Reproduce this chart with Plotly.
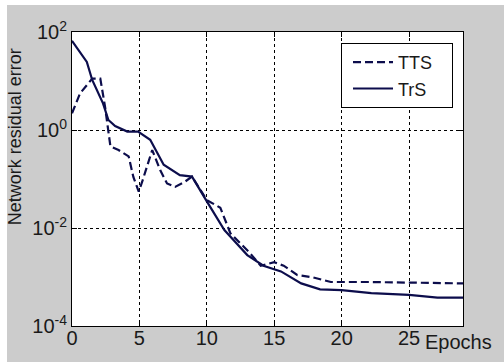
import plotly.graph_objects as go

# TrS (solid) — training set residual error
trs_epochs = [0, 1.1, 1.5, 2.3, 2.7, 3.2, 4.1, 4.9, 5.8, 6.8, 8.0, 8.9, 10.0, 11.3, 13.0, 14.2, 15.5, 17.0, 18.4, 20.0, 22.2, 25.0, 27.1, 29]
trs_error = [66, 24.5, 10.5, 3.5, 1.6, 1.2, 0.93, 0.93, 0.63, 0.195, 0.12, 0.112, 0.035, 0.0091, 0.0028, 0.0017, 0.0013, 0.00074, 0.00056, 0.00054, 0.00047, 0.00043, 0.00038, 0.00038]

# TTS (dashed) — test set residual error
tts_epochs = [0, 0.6, 1.5, 2.1, 2.45, 2.85, 3.45, 4.2, 4.55, 4.95, 5.2, 5.95, 6.55, 7.05, 7.65, 8.4, 8.9, 10.0, 11.0, 11.75, 13.1, 14.0, 15.0, 15.7, 16.7, 17.9, 19.2, 22.2, 29]
tts_error = [2.2, 5.6, 11.2, 11.2, 3.0, 0.46, 0.39, 0.29, 0.11, 0.055, 0.087, 0.39, 0.15, 0.081, 0.069, 0.089, 0.112, 0.037, 0.026, 0.0078, 0.0033, 0.0017, 0.002, 0.0017, 0.0011, 0.00098, 0.00079, 0.00079, 0.00074]

x_ticks = [0, 5, 10, 15, 20, 25]
y_ticks = [1e-4, 1e-2, 1, 100]
y_tick_text = ["10<sup>-4</sup>", "10<sup>-2</sup>", "10<sup>0</sup>", "10<sup>2</sup>"]

NAVY = "#0c0d4c"
FONT = "Liberation Sans, Arial, sans-serif"
FS = 20
TXT = "#1a1a1a"
PAD = "\u00a0" * 3

fig = go.Figure()
fig.add_trace(go.Scatter(x=tts_epochs, y=tts_error, mode="lines", name="TTS" + PAD,
                         line=dict(color=NAVY, width=2.2, dash="8px,4px")))
fig.add_trace(go.Scatter(x=trs_epochs, y=trs_error, mode="lines", name="TrS" + PAD,
                         line=dict(color=NAVY, width=2.2)))

axis_common = dict(
    showline=True, linecolor="black", linewidth=1, mirror="ticks",
    ticks="inside", ticklen=5, tickcolor="black",
    showgrid=True, gridcolor="black", gridwidth=1, griddash="3px,3px",
    zeroline=False, tickfont=dict(family=FONT, size=FS, color=TXT),
)

fig.update_xaxes(range=[0, 29], tickvals=x_ticks, ticktext=[str(v) for v in x_ticks],
                 ticklabelstandoff=-6, **axis_common)
fig.update_yaxes(type="log", range=[-4, 2], tickvals=y_ticks, ticktext=y_tick_text, **axis_common)

fig.update_layout(
    width=504, height=362,
    margin=dict(l=72, r=41, t=32, b=36),
    paper_bgcolor="rgba(0,0,0,0)", plot_bgcolor="white",
    font=dict(family=FONT, size=FS, color=TXT),
    showlegend=True,
    legend=dict(x=0.688, y=0.963, xanchor="left", yanchor="top",
                bgcolor="white", bordercolor="black", borderwidth=1,
                font=dict(family=FONT, size=18, color=TXT),
                itemwidth=40, indentation=6, tracegroupgap=0),
    annotations=[
        dict(text="Network residual error", xref="paper", yref="paper", x=-0.146, y=0.645,
             textangle=-90, showarrow=False, xanchor="center", yanchor="middle",
             font=dict(family=FONT, size=18, color=TXT)),
        dict(text="Epochs", xref="paper", yref="paper", x=0.897, y=-0.055,
             showarrow=False, xanchor="left", yanchor="middle",
             font=dict(family=FONT, size=FS, color=TXT)),
    ],
)

page_style = (
    "document.body.style.margin='0';"
    "document.body.style.overflow='hidden';"
    "document.body.style.background="
    "'linear-gradient(to right, #ffffff 7px, rgba(0,0,0,0) 7px), "
    "linear-gradient(to bottom, #ffffff 5px, #cccccc 5px)';"
)

fig.write_html("out.html", config={"displayModeBar": False}, post_script=page_style)
